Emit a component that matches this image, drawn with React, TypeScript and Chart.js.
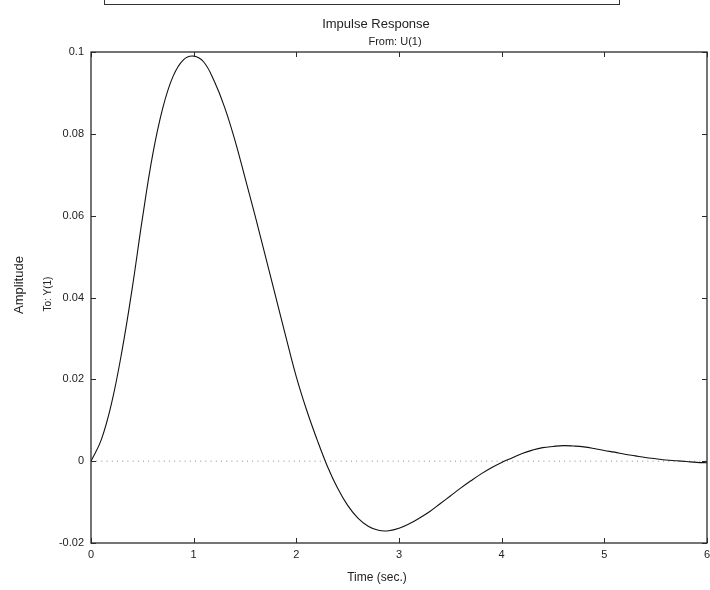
import React, { useEffect, useRef } from "react";
import { Chart, registerables } from "chart.js";

Chart.register(...registerables);

// ---- Data ----
const timeSec = [
  0.0, 0.1, 0.2, 0.3, 0.4, 0.5, 0.6, 0.7, 0.8, 0.9,
  1.0, 1.1, 1.2, 1.3, 1.4, 1.5, 1.6, 1.7, 1.8, 1.9,
  2.0, 2.1, 2.2, 2.3, 2.4, 2.5, 2.6, 2.7, 2.8, 2.9,
  3.0, 3.1, 3.2, 3.3, 3.4, 3.5, 3.6, 3.7, 3.8, 3.9,
  4.0, 4.1, 4.2, 4.3, 4.4, 4.5, 4.6, 4.7, 4.8, 4.9,
  5.0, 5.1, 5.2, 5.3, 5.4, 5.5, 5.6, 5.7, 5.8, 5.9,
  6.0,
];

const amplitude = [
  0.0, 0.0052, 0.0141, 0.0267, 0.042, 0.0592, 0.0748, 0.0864, 0.0941, 0.0981,
  0.099, 0.0975, 0.0929, 0.0866, 0.0786, 0.0693, 0.0598, 0.05, 0.0401, 0.0302,
  0.0206, 0.0125, 0.0054, -0.0011, -0.0065, -0.0108, -0.0139, -0.0159, -0.0169, -0.017,
  -0.0164, -0.0153, -0.0139, -0.0123, -0.0104, -0.0085, -0.0066, -0.0048, -0.0031, -0.0016,
  -0.0003, 0.0008, 0.0019, 0.0027, 0.0033, 0.0036, 0.0038, 0.0037, 0.0035, 0.0031,
  0.0026, 0.0022, 0.0017, 0.0013, 0.0009, 0.0006, 0.0003, 0.0001, -0.0001, -0.0003,
  -0.0004,
];

const zeroLineX = [0, 6];
const zeroLineY = [0, 0];

const xTickValues = [0, 1, 2, 3, 4, 5, 6];
const xTickLabels = ["0", "1", "2", "3", "4", "5", "6"];
const yTickValues = [-0.02, 0, 0.02, 0.04, 0.06, 0.08, 0.1];
const yTickLabels = ["-0.02", "0", "0.02", "0.04", "0.06", "0.08", "0.1"];

const titleText = "Impulse Response";
const subTitleText = "From: U(1)";
const xAxisText = "Time (sec.)";
const yAxisText = "Amplitude";
const ySubAxisText = "To: Y(1)";

const FONT = "'Liberation Sans', Arial, sans-serif";

const labelFor = (values: number[], labels: string[], v: number) => {
  const i = values.findIndex((t) => Math.abs(t - v) < 1e-9);
  return i >= 0 ? labels[i] : "";
};

const framePlugin = {
  id: "frameTicks",
  afterDatasetsDraw(chart: any) {
    const { ctx, chartArea, scales } = chart;
    const { left, right, top, bottom } = chartArea;
    const x = scales.x;
    const y = scales.y;
    const len = 5;
    ctx.save();
    ctx.strokeStyle = "#2a2a2a";
    ctx.lineWidth = 1.3;
    ctx.strokeRect(left, top, right - left, bottom - top);
    ctx.lineWidth = 1;
    ctx.beginPath();
    xTickValues.forEach((v) => {
      const px = Math.round(x.getPixelForValue(v)) + 0.5;
      ctx.moveTo(px, bottom);
      ctx.lineTo(px, bottom - len);
      ctx.moveTo(px, top);
      ctx.lineTo(px, top + len);
    });
    yTickValues.forEach((v) => {
      const py = Math.round(y.getPixelForValue(v)) + 0.5;
      ctx.moveTo(left, py);
      ctx.lineTo(left + len, py);
      ctx.moveTo(right, py);
      ctx.lineTo(right - len, py);
    });
    ctx.stroke();
    ctx.restore();
  },
};

export default function App() {
  const canvasRef = useRef<HTMLCanvasElement | null>(null);

  useEffect(() => {
    if (!canvasRef.current) return;
    const chart = new Chart(canvasRef.current, {
      type: "line",
      data: {
        datasets: [
          {
            data: timeSec.map((t, i) => ({ x: t, y: amplitude[i] })),
            borderColor: "#111111",
            borderWidth: 1.1,
            pointRadius: 0,
            fill: false,
            tension: 0.4,
            order: 0,
          },
          {
            data: zeroLineX.map((t, i) => ({ x: t, y: zeroLineY[i] })),
            borderColor: "#8a8a8a",
            borderWidth: 1,
            borderDash: [1, 4.2],
            pointRadius: 0,
            fill: false,
            order: 1,
          },
        ],
      },
      options: {
        responsive: false,
        maintainAspectRatio: false,
        animation: false,
        events: [],
        layout: { padding: { left: 0, right: 3, top: 52, bottom: 0 } },
        plugins: {
          legend: { display: false },
          tooltip: { enabled: false },
          title: { display: false },
        },
        scales: {
          x: {
            type: "linear",
            min: 0,
            max: 6,
            grid: { display: false, drawTicks: false },
            border: { display: false },
            afterBuildTicks: (s: any) => {
              s.ticks = xTickValues.map((v) => ({ value: v }));
            },
            afterFit: (s: any) => {
              s.height = 47;
              s.paddingLeft = 0;
              s.paddingRight = 0;
            },
            ticks: {
              autoSkip: false,
              maxRotation: 0,
              padding: 5,
              color: "#222",
              font: { family: FONT, size: 11 },
              callback: (v: any) => labelFor(xTickValues, xTickLabels, Number(v)),
            },
          },
          y: {
            type: "linear",
            min: -0.02,
            max: 0.1,
            grid: { display: false, drawTicks: false },
            border: { display: false },
            afterBuildTicks: (s: any) => {
              s.ticks = yTickValues.map((v) => ({ value: v }));
            },
            afterFit: (s: any) => {
              s.width = 91;
              s.paddingTop = 0;
              s.paddingBottom = 0;
            },
            ticks: {
              autoSkip: false,
              padding: 7,
              color: "#222",
              font: { family: FONT, size: 11 },
              callback: (v: any) => labelFor(yTickValues, yTickLabels, Number(v)),
            },
          },
        },
      } as any,
      plugins: [framePlugin],
    });
    return () => chart.destroy();
  }, []);

  const base: React.CSSProperties = {
    position: "absolute",
    fontFamily: FONT,
    color: "#222",
    whiteSpace: "nowrap",
  };

  return (
    <div style={{ position: "absolute", left: 0, top: 0, width: 710, height: 590, background: "#fff", overflow: "hidden" }}>
      <canvas ref={canvasRef} width={710} height={590} style={{ position: "absolute", left: 0, top: 0, width: 710, height: 590 }} />
      <div style={{ position: "absolute", left: 104, top: -20, width: 514, height: 23, border: "1px solid #333" }} />
      <div style={{ ...base, left: 376, top: 23, fontSize: 13, transform: "translate(-50%, -50%)" }}>{titleText}</div>
      <div style={{ ...base, left: 395, top: 41, fontSize: 11, transform: "translate(-50%, -50%)" }}>{subTitleText}</div>
      <div style={{ ...base, left: 377, top: 577, fontSize: 12, transform: "translate(-50%, -50%)" }}>{xAxisText}</div>
      <div style={{ ...base, left: 18, top: 285, fontSize: 13, transform: "translate(-50%, -50%) rotate(-90deg)" }}>{yAxisText}</div>
      <div style={{ ...base, left: 47, top: 294, fontSize: 10, transform: "translate(-50%, -50%) rotate(-90deg)" }}>{ySubAxisText}</div>
    </div>
  );
}
